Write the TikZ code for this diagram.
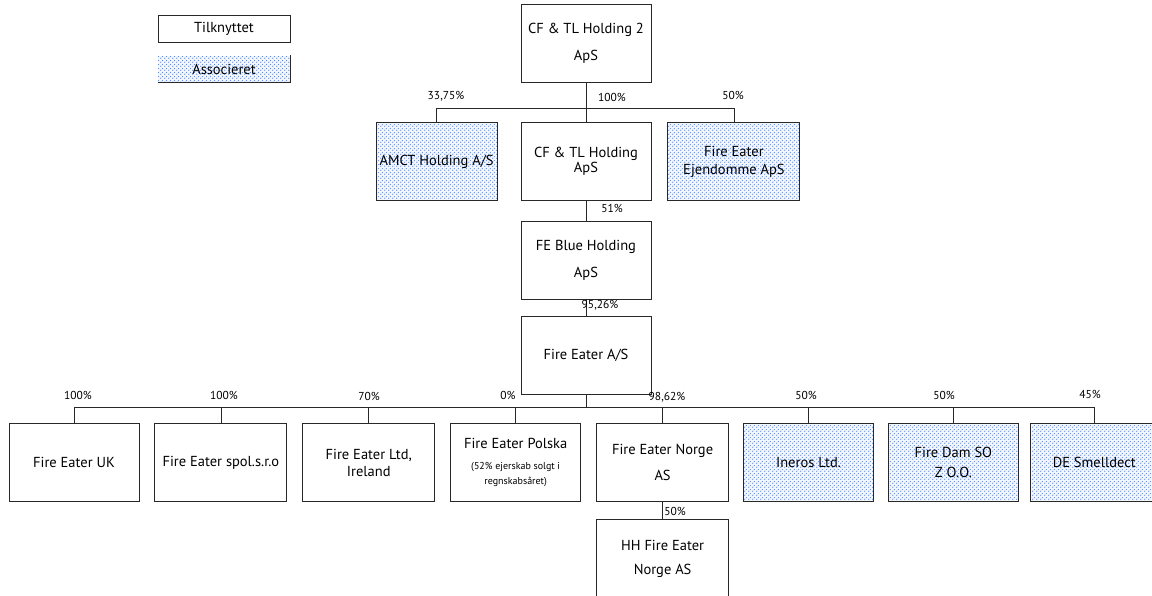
\documentclass[tikz,border=0pt]{standalone}
\usepackage{fontspec}
\setmainfont{PT Sans}
\usepackage{tikz}
\usetikzlibrary{positioning,patterns.meta}
\definecolor{dotblue}{RGB}{100,142,220}
\definecolor{linegray}{RGB}{40,40,40}
\tikzdeclarepattern{name=assocdots,type=uncolored,
  bounding box={(0,0) and (4pt,4pt)},tile size={(4pt,4pt)},
  code={\fill (1pt,1pt) circle (0.8pt); \fill (3pt,3pt) circle (0.8pt);}}

\begin{document}
\begin{tikzpicture}[x=1pt,y=-1pt,
    firm/.style={draw=linegray,line width=0.9pt,minimum width=130pt,minimum height=78pt,
      align=center,inner sep=1pt,font=\fontsize{14.5}{15}\selectfont},
    assoc/.style={firm,preaction={fill=dotblue!8},pattern=assocdots,pattern color=dotblue},
    pct/.style={font=\fontsize{11.5}{13}\selectfont,inner sep=0pt},
    link/.style={draw=linegray,line width=0.7pt}]
        \useasboundingbox (0,0) rectangle (1152,595);
        \clip (0,0) rectangle (1152,595);
        % legend
        \node[draw=linegray,line width=0.9pt,minimum width=132pt,minimum height=27pt,font=\fontsize{14.5}{15}\selectfont] (legtilk) at (224,28.5) {Tilknyttet};
        \node[minimum width=132pt,minimum height=27pt,font=\fontsize{14.5}{15}\selectfont,
          preaction={fill=dotblue!8},pattern=assocdots,pattern color=dotblue,below=13pt of legtilk] (legass) {Associeret};
        \draw[linegray,line width=0.9pt] (legass.south west) -| (legass.north east);
        % holding chain
        \node[firm] (top) at (586,43.5) {CF \& TL Holding 2\\[12pt]ApS};
        \node[firm,below=39pt of top] (hold) {CF \& TL Holding\\ApS};
        \node[assoc,minimum width=121pt,left=23pt of hold] (amct) {AMCT Holding A/S};
        \node[assoc,minimum width=132pt,right=16pt of hold] (ejd) {Fire Eater\\[3pt]Ejendomme ApS};
        \node[firm,below=20pt of hold] (blue) {FE Blue Holding\\[12pt]ApS};
        \node[firm,below=16pt of blue] (fea) {Fire Eater A/S};
        % subsidiaries
        \node[firm] (uk) at (74,462.5) {Fire Eater UK};
        \node[firm,minimum width=132pt,right=15pt of uk] (spol) {Fire Eater spol.s.r.o};
        \node[firm,minimum width=132pt,right=15pt of spol] (irl) {Fire Eater Ltd,\\[2pt]Ireland};
        \node[firm,right=15pt of irl] (pol) {Fire Eater Polska\\[6pt]{\fontsize{10}{11}\selectfont (52\% ejerskab solgt i}\\{\fontsize{10}{11}\selectfont regnskabsåret)}};
        \node[firm,minimum width=132pt,right=15pt of pol] (nor) {Fire Eater Norge\\[11pt]AS};
        \node[assoc,right=14pt of nor] (ine) {Ineros Ltd.};
        \node[assoc,right=14pt of ine] (dam) {Fire Dam SO\\[5pt]Z O.O.};
        \node[assoc,minimum width=128pt,right=11pt of dam] (de) {DE Smelldect};
        \node[firm,minimum width=132pt,below=17pt of nor] (hh) {HH Fire Eater\\[9pt]Norge AS};
        % connectors
        \draw[link] (top.south) -- (hold.north);
        \draw[link] (amct.north) -- ++(0,-13.5) -| (ejd.north);
        \draw[link] (hold.south) -- (blue.north);
        \draw[link] (blue.south) -- (fea.north);
        \draw[link] (fea.south) -- ++(0,13) coordinate (bus);
        \draw[link] (uk.north) |- (bus) -| (de.north);
        \draw[link] (spol.north) -- (spol.north |- bus);
        \draw[link] (irl.north) -- (irl.north |- bus);
        \draw[link] (pol.north) -- (pol.north |- bus);
        \draw[link] (nor.north) -- (nor.north |- bus);
        \draw[link] (ine.north) -- (ine.north |- bus);
        \draw[link] (dam.north) -- (dam.north |- bus);
        \draw[link] (nor.south) -- (hh.north);
        % shares
        \node[pct] (pamct) at (446,96) {33,75\%};
        \node[pct] (phold) at (612,97) {100\%};
        \node[pct] (pejd) at (733,95) {50\%};
        \node[pct] (pblue) at (612,208) {51\%};
        \node[pct] (pfea) at (600,305) {95,26\%};
        \node[pct] (puk) at (78,395) {100\%};
        \node[pct] (pspol) at (224,395) {100\%};
        \node[pct] (pirl) at (369,396) {70\%};
        \node[pct] (ppol) at (508,395) {0\%};
        \node[pct] (pnor) at (667,397) {98,62\%};
        \node[pct] (pine) at (806,395) {50\%};
        \node[pct] (pdam) at (944,395) {50\%};
        \node[pct] (pde) at (1090,394) {45\%};
        \node[pct] (phh) at (675,511) {50\%};
      \end{tikzpicture}
\end{document}
